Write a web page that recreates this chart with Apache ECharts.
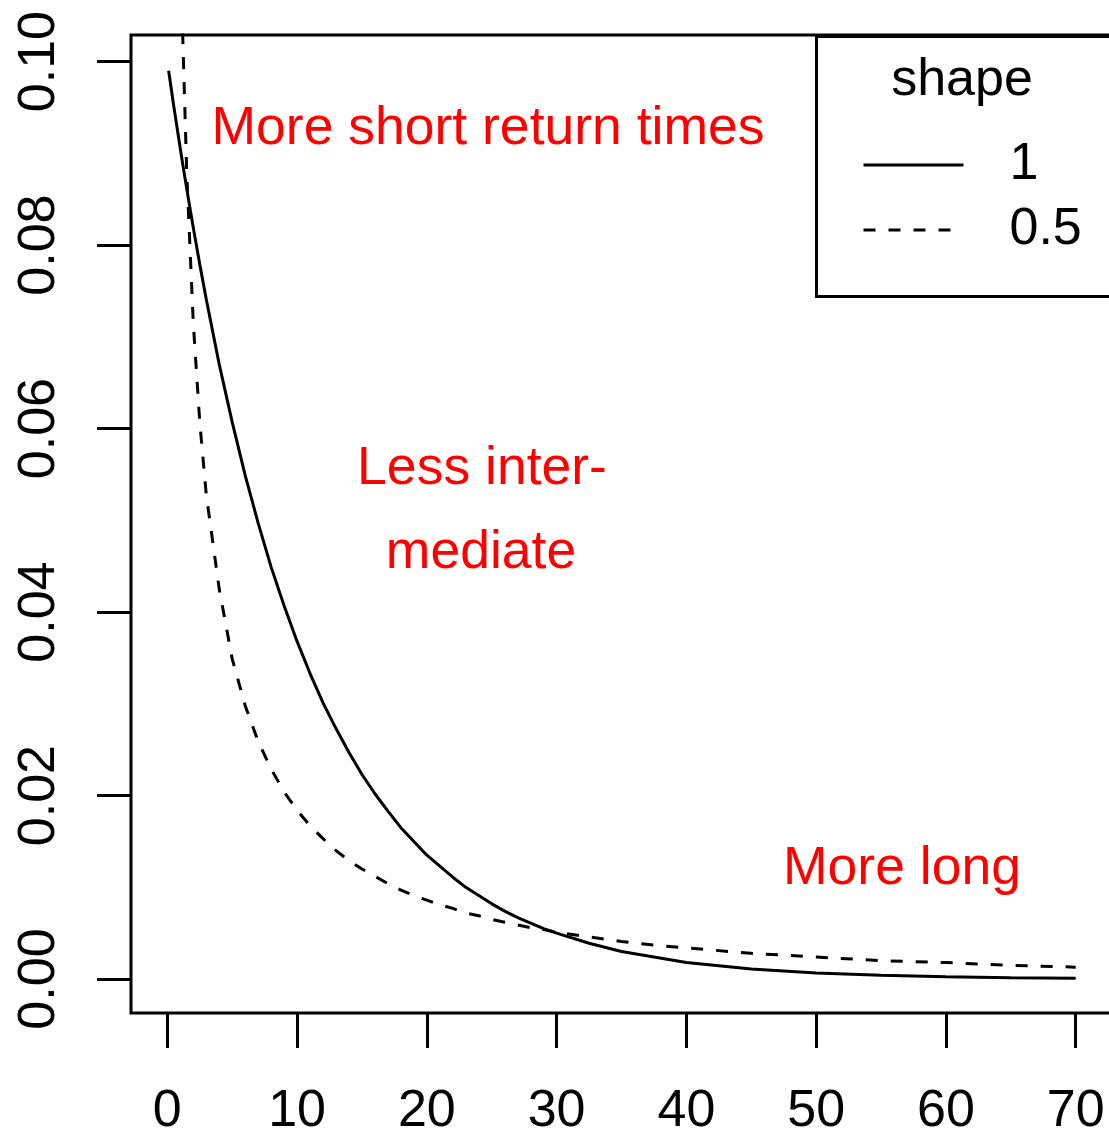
<!DOCTYPE html>
<html>
<head>
<meta charset="utf-8">
<title>shape</title>
<script src="https://cdn.jsdelivr.net/npm/echarts@6/dist/echarts.min.js"></script>
<style>
  html, body { margin: 0; padding: 0; background: #fff; }
  #chart { width: 1109px; height: 1137px; }
</style>
</head>
<body>
<div id="chart"></div>
<script>
// values
var xs = [0.1, 0.5, 1, 1.2, 1.5, 2, 2.5, 3, 4, 5, 6, 7, 8, 9, 10,
  11, 12, 13, 14, 15, 16, 17, 18, 19, 20, 21, 22, 23, 24, 25, 26, 27, 28, 29, 30,
  32.5, 35, 37.5, 40, 45, 50, 55, 60, 65, 70]
var shape1 = [0.0990, 0.0951, 0.0905, 0.0887, 0.0861, 0.0819, 0.0779, 0.0741, 0.0670, 0.0607, 0.0549, 0.0497, 0.0449, 0.0407, 0.0368,
  0.0333, 0.0301, 0.0273, 0.0247, 0.0223, 0.0202, 0.0183, 0.0165, 0.0150, 0.0135, 0.0123, 0.0111, 0.0100, 0.0091, 0.0082, 0.0074, 0.0067, 0.0061, 0.0055, 0.0050,
  0.0039, 0.0030, 0.0024, 0.0018, 0.0011, 0.00067, 0.00041, 0.00025, 0.00015, 0.00009]
var shape05 = [0.452, 0.179, 0.1153, 0.1021, 0.0877, 0.0715, 0.0607, 0.0528, 0.0425, 0.0349, 0.0298, 0.0259, 0.0229, 0.0204, 0.0184,
  0.0167, 0.0153, 0.0140, 0.0129, 0.0120, 0.0112, 0.0104, 0.0097, 0.0091, 0.0086, 0.0081, 0.0077, 0.0072, 0.0069, 0.0065, 0.0062, 0.0059, 0.0056, 0.0054, 0.0051,
  0.0046, 0.0041, 0.0037, 0.0034, 0.0028, 0.0024, 0.0020, 0.0018, 0.0015, 0.0013]
var xTicks = [0, 10, 20, 30, 40, 50, 60, 70]
var yTicks = [0, 0.02, 0.04, 0.06, 0.08, 0.10]

var font = 'Liberation Sans, Arial, Helvetica, sans-serif'
var redFont = '53.5px ' + font

function pairs (ys) {
  return xs.map(function (x, i) { return [x, ys[i]] })
}

var chart = echarts.init(document.getElementById('chart'))
var option = {
  animation: false,
  backgroundColor: '#fff',
  grid: {
    left: 131,
    top: 35,
    right: -3,
    bottom: 124,
    show: true,
    borderColor: '#000',
    borderWidth: 3,
    outerBoundsMode: 'none'
  },
  xAxis: {
    type: 'value',
    min: -2.8,
    max: 72.8,
    splitLine: { show: false },
    axisLine: { show: false, onZero: false },
    axisTick: {
      show: true,
      inside: false,
      length: 35,
      customValues: xTicks,
      lineStyle: { color: '#000', width: 3 }
    },
    axisLabel: {
      customValues: xTicks,
      margin: 73,
      color: '#000',
      fontSize: 52,
      lineHeight: 52,
      fontFamily: font
    }
  },
  yAxis: {
    type: 'value',
    min: -0.0037,
    max: 0.1029,
    splitLine: { show: false },
    axisLine: { show: false, onZero: false },
    axisTick: {
      show: true,
      inside: false,
      length: 34,
      customValues: yTicks,
      lineStyle: { color: '#000', width: 3 }
    },
    axisLabel: {
      customValues: yTicks,
      rotate: 90,
      margin: 65,
      color: '#000',
      fontSize: 52,
      lineHeight: 52,
      fontFamily: font,
      formatter: function (v) { return v.toFixed(2) }
    }
  },
  legend: {
    data: ['1', '0.5'],
    orient: 'vertical',
    left: 862,
    top: 139,
    itemWidth: 100,
    itemHeight: 2,
    itemGap: 13,
    padding: 0,
    selectedMode: false,
    itemStyle: { opacity: 0 },
    lineStyle: { width: 3 },
    textStyle: {
      color: '#000',
      fontSize: 52,
      lineHeight: 52,
      fontFamily: font,
      padding: [0, 0, 0, 41]
    }
  },
  graphic: [
    {
      type: 'rect',
      left: 815,
      top: 35,
      z: 1,
      shape: { width: 320, height: 260 },
      style: { fill: '#fff', stroke: '#000', lineWidth: 3 }
    },
    {
      type: 'text',
      x: 962,
      y: 81,
      z: 2,
      style: { text: 'shape', font: '52px ' + font, fill: '#000', align: 'center', verticalAlign: 'middle' }
    },
    {
      type: 'text',
      x: 488,
      y: 129,
      style: { text: 'More short return times', font: redFont, fill: '#ff0000', align: 'center', verticalAlign: 'middle' }
    },
    {
      type: 'text',
      x: 482,
      y: 469,
      style: { text: 'Less inter-', font: redFont, fill: '#ff0000', align: 'center', verticalAlign: 'middle' }
    },
    {
      type: 'text',
      x: 481,
      y: 553,
      style: { text: 'mediate', font: redFont, fill: '#ff0000', align: 'center', verticalAlign: 'middle' }
    },
    {
      type: 'text',
      x: 902,
      y: 869,
      style: { text: 'More long', font: redFont, fill: '#ff0000', align: 'center', verticalAlign: 'middle' }
    }
  ],
  series: [
    {
      name: '1',
      type: 'line',
      data: pairs(shape1),
      symbol: 'none',
      z: 3,
      lineStyle: { color: '#000', width: 3, type: 'solid' },
      itemStyle: { color: '#000' }
    },
    {
      name: '0.5',
      type: 'line',
      data: pairs(shape05),
      symbol: 'none',
      z: 3,
      lineStyle: { color: '#000', width: 3, type: [12, 13] },
      itemStyle: { color: '#000' }
    }
  ]
}
chart.setOption(option)
</script>
</body>
</html>
